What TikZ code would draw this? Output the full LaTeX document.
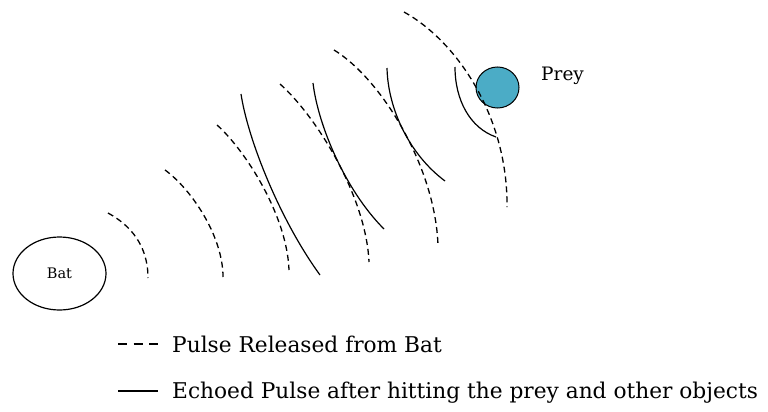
\documentclass[tikz,border=0pt]{standalone}
\usepackage{fontspec}
\setmainfont{DejaVu Serif}
\usepackage{xcolor}
\usetikzlibrary{shapes.geometric, positioning}
\definecolor{preyblue}{RGB}{75,172,198}

\begin{document}
\begin{tikzpicture}[x=1pt, y=-1pt,
			bat/.style={draw, ellipse, line width=1.2pt, minimum width=93pt, minimum height=73pt, inner sep=0pt, font=\fontsize{14.5}{16}\selectfont},
			prey/.style={draw, ellipse, fill=preyblue, line width=1pt, minimum width=43pt, minimum height=41pt, inner sep=0pt},
			pulse/.style={line width=1.3pt, dash pattern=on 6pt off 4pt},
			echo/.style={line width=1.2pt},
			legend/.style={font=\fontsize{21.7}{25}\selectfont, inner sep=0pt}
			]
			\useasboundingbox (0,0) rectangle (768,412);
			\node [bat](bat) at (59.5,273.5) {Bat};
			\node [prey](prey) at (497.5,87.5) {};
			\node [legend, font=\fontsize{18.5}{22}\selectfont, anchor=base west](preylabel) at (541,81) {Prey};
			% pulses released from the bat
			\draw[pulse] (108,213) .. controls (130,225) and (148,245) .. (148,278);
			\draw[pulse] (165,170) .. controls (190,188) and (223,235) .. (223,277);
			\draw[pulse] (217,125) .. controls (245,150) and (287,215) .. (289,270);
			\draw[pulse] (280,84) .. controls (315,115) and (366,195) .. (369,262);
			\draw[pulse] (334,50) .. controls (380,78) and (435,165) .. (438,245);
			\draw[pulse] (404,12) .. controls (458,42) and (508,118) .. (507,207);
			% echoes coming back
			\draw[echo] (241,94) .. controls (248,140) and (280,220) .. (320,275);
			\draw[echo] (313,83) .. controls (318,125) and (345,190) .. (384,229);
			\draw[echo] (387,68) .. controls (388,110) and (410,155) .. (445,181);
			\draw[echo] (455,67) .. controls (455,100) and (470,128) .. (496,137);
			% legend
			\coordinate (d1) at (118,344);
			\coordinate (d2) at (158,344);
			\coordinate (s1) at (118,391);
			\coordinate (s2) at (158,391);
			\draw[line width=1.2pt, dash pattern=on 9pt off 6.5pt] (d1) -- (d2);
			\draw[line width=1.2pt] (s1) -- (s2);
			\node [legend, anchor=base west](pulsetext) at (172,352) {Pulse Released from Bat};
			\node [legend, anchor=base west](echotext) at (172,398) {Echoed Pulse after hitting the prey and other objects};
		\end{tikzpicture}
\end{document}
